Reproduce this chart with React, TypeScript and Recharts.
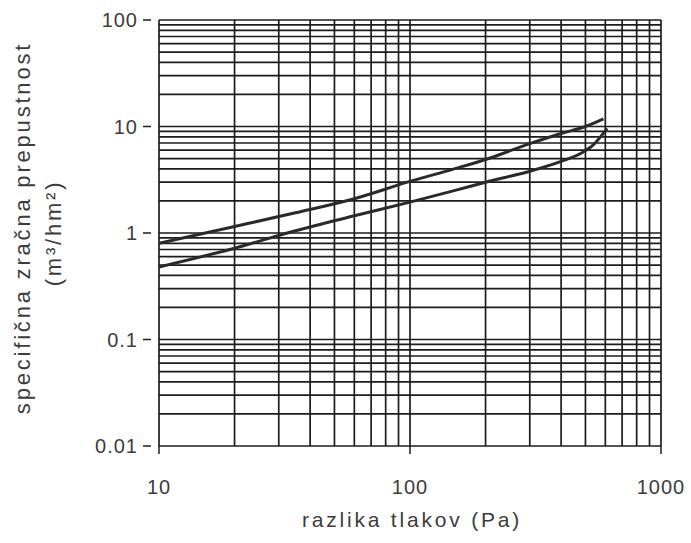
import React from "react";
import { LineChart, Line, XAxis, YAxis, CartesianGrid, Label } from "recharts";

// pressure difference (Pa) and specific air permeability (m3/hm2)
const upperPressure = [10, 20, 35, 60, 100, 150, 200, 300, 400, 500, 590];
const upperPermeability = [0.8, 1.15, 1.55, 2.1, 3.05, 4.0, 4.9, 6.9, 8.6, 10.0, 11.8];

const lowerPressure = [10, 20, 35, 60, 100, 150, 200, 300, 400, 480, 540, 610];
const lowerPermeability = [0.48, 0.72, 1.05, 1.45, 1.95, 2.5, 3.0, 3.8, 4.7, 5.6, 6.8, 9.6];

// log paper grid
const xTicks = [
  10, 20, 30, 40, 50, 60, 70, 80, 90,
  100, 200, 300, 400, 500, 600, 700, 800, 900,
  1000,
];
const yTicks = [
  0.01, 0.02, 0.03, 0.04, 0.05, 0.06, 0.07, 0.08, 0.09,
  0.1, 0.2, 0.3, 0.4, 0.5, 0.6, 0.7, 0.8, 0.9,
  1, 2, 3, 4, 5, 6, 7, 8, 9,
  10, 20, 30, 40, 50, 60, 70, 80, 90,
  100,
];
const xLabels = [10, 100, 1000];
const yLabels = [0.01, 0.1, 1, 10, 100];

const upperData = upperPressure.map((p, i) => ({ p, k: upperPermeability[i] }));
const lowerData = lowerPressure.map((p, i) => ({ p, k: lowerPermeability[i] }));

const ink = "#1c1c1c";
const textInk = "#3c3c3c";
const font = "'Liberation Sans', Arial, sans-serif";

const XTick = (props: any) => {
  const { x, y, payload } = props;
  if (!xLabels.includes(payload.value)) return <g />;
  return (
    <g>
      <line x1={x} x2={x} y1={y - 12} y2={y - 4} stroke={ink} strokeWidth={1.5} />
      <text
        x={x}
        y={y + 36}
        textAnchor="middle"
        fontFamily={font}
        fontSize={20}
        letterSpacing={1}
        fill={textInk}
      >
        {payload.value}
      </text>
    </g>
  );
};

const YTick = (props: any) => {
  const { x, y, payload } = props;
  if (!yLabels.includes(payload.value)) return <g />;
  return (
    <g>
      <line x1={x + 5} x2={x + 13} y1={y} y2={y} stroke={ink} strokeWidth={1.5} />
      <text
        x={x}
        y={y + 7}
        textAnchor="end"
        fontFamily={font}
        fontSize={20}
        letterSpacing={1}
        fill={textInk}
      >
        {payload.value}
      </text>
    </g>
  );
};

export default function App() {
  return (
    <div style={{ position: "absolute", left: 0, top: 0, width: 691, height: 543, background: "#fff" }}>
      <LineChart width={691} height={543} margin={{ top: 20, right: 30, left: 0, bottom: 0 }}>
        <CartesianGrid stroke={ink} strokeWidth={1.7} />
        <XAxis
          type="number"
          dataKey="p"
          scale="log"
          domain={[10, 1000]}
          ticks={xTicks}
          interval={0}
          allowDataOverflow
          axisLine={false}
          tickLine={false}
          tickSize={8}
          tickMargin={4}
          height={97}
          tick={<XTick />}
        >
          <Label
            content={() => (
              <text
                x={412}
                y={527}
                textAnchor="middle"
                fontFamily={font}
                fontSize={21}
                letterSpacing={2.8}
                fill={textInk}
              >
                razlika tlakov (Pa)
              </text>
            )}
          />
        </XAxis>
        <YAxis
          type="number"
          dataKey="k"
          scale="log"
          domain={[0.01, 100]}
          ticks={yTicks}
          interval={0}
          allowDataOverflow
          axisLine={false}
          tickLine={false}
          tickSize={8}
          tickMargin={13}
          width={159}
          tick={<YTick />}
        >
          <Label
            content={() => (
              <g fontFamily={font} fontSize={22} letterSpacing={2.8} fill={textInk}>
                <text x={22} y={228} textAnchor="middle" dominantBaseline="central" transform="rotate(-90 22 228)">
                  specifična zračna prepustnost
                </text>
                <text x={53} y={233} textAnchor="middle" dominantBaseline="central" transform="rotate(-90 53 233)">
                  (m³/hm²)
                </text>
              </g>
            )}
          />
        </YAxis>
        <Line
          data={upperData}
          dataKey="k"
          type="monotone"
          stroke="#2a2a2a"
          strokeWidth={3}
          dot={false}
          isAnimationActive={false}
        />
        <Line
          data={lowerData}
          dataKey="k"
          type="monotone"
          stroke="#2a2a2a"
          strokeWidth={3}
          dot={false}
          isAnimationActive={false}
        />
      </LineChart>
    </div>
  );
}
